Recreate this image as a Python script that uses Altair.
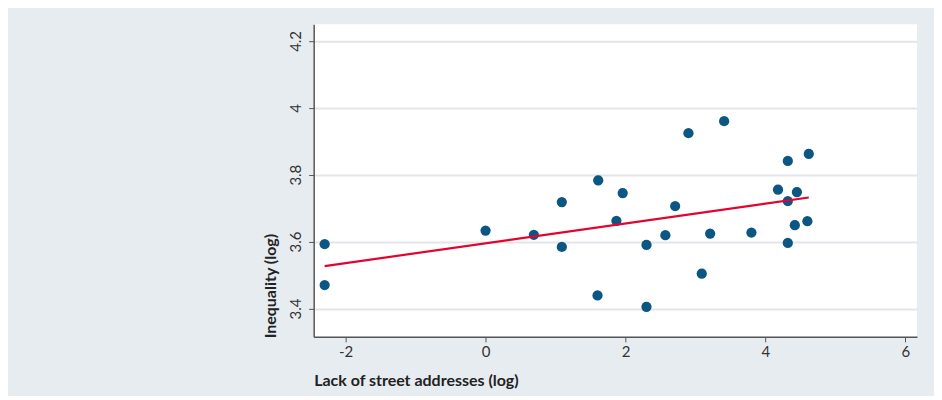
import altair as alt
import pandas as pd

# Lack of street addresses (log)
x_vals = [-2.30, -2.30, 0.00, 0.69, 1.09, 1.09, 1.61, 1.60, 1.96, 1.87,
          2.30, 2.30, 2.57, 2.71, 2.90, 3.09, 3.21, 3.41, 3.80, 4.18,
          4.32, 4.32, 4.32, 4.45, 4.42, 4.62, 4.60]
# Inequality (log)
y_vals = [3.592, 3.470, 3.633, 3.620, 3.718, 3.584, 3.783, 3.439, 3.745, 3.662,
          3.590, 3.405, 3.619, 3.706, 3.924, 3.504, 3.624, 3.960, 3.627, 3.755,
          3.841, 3.721, 3.596, 3.748, 3.649, 3.862, 3.661]

x_ticks = [-2, 0, 2, 4, 6]
y_ticks = [3.4, 3.6, 3.8, 4.0, 4.2]

df = pd.DataFrame({"x": x_vals, "y": y_vals})

FONT = "Lato"

xscale = alt.Scale(domain=[-2.457, 6.167], nice=False, zero=False)
yscale = alt.Scale(domain=[3.315, 4.25], nice=False, zero=False)

xaxis = alt.Axis(
    values=x_ticks, title="Lack of street addresses (log)", grid=False,
    labelExpr="toString(datum.value)", labelFontSize=15, labelFont=FONT,
    labelColor="#333333",
    tickSize=5, tickColor="#555555", domainColor="#555555", domainWidth=1.5,
    labelPadding=3, titleFont=FONT, titleFontSize=16, titleFontWeight="bold",
    titleColor="#222222", titleAnchor="start", titlePadding=13,
)
yaxis = alt.Axis(
    values=y_ticks, title="Inequality (log)", grid=True, gridColor="#e4e5ea",
    gridWidth=2, labelExpr="toString(datum.value)", labelAngle=-90,
    labelAlign="center",
    labelBaseline="bottom", labelFontSize=15, labelFont=FONT,
    labelColor="#333333", tickSize=5, tickColor="#555555",
    domainColor="#555555", domainWidth=1.5, labelPadding=5,
    titleFont=FONT, titleFontSize=16, titleFontWeight="bold",
    titleColor="#222222", titleAngle=-90, titleAlign="left",
    titleBaseline="middle", titleX=-43, titleY=314,
)

base = alt.Chart(df)

points = base.mark_circle(size=105, opacity=1, color="#0b5683").encode(
    x=alt.X("x:Q", scale=xscale, axis=xaxis),
    y=alt.Y("y:Q", scale=yscale, axis=yaxis),
)

fit = base.transform_regression("x", "y").mark_line(
    color="#e4032e", strokeWidth=2.2
).encode(
    x=alt.X("x:Q", scale=xscale),
    y=alt.Y("y:Q", scale=yscale),
)

chart = (
    alt.layer(points, fit)
    .properties(
        width=604, height=313,
        autosize=alt.AutoSizeParams(type="none"),
        padding={"left": 306, "top": 16, "right": 17, "bottom": 59},
        background="#e7ecf1",
    )
    .configure_view(fill="white", stroke=None)
)

chart.save("out.html", embed_options={"renderer": "svg", "actions": False})
